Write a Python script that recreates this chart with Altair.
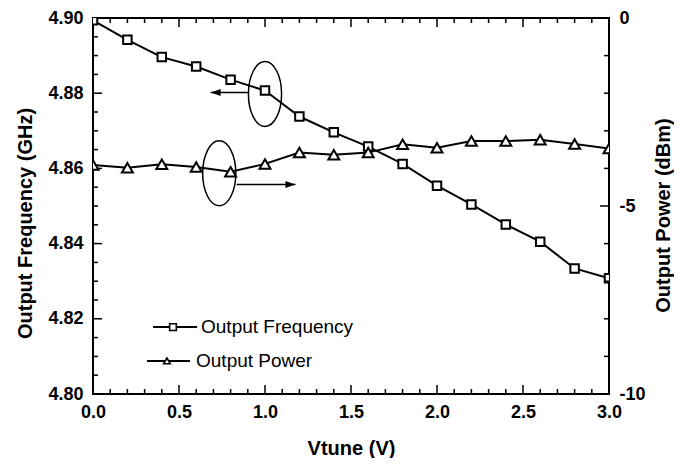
import altair as alt
import pandas as pd

# ---------------- data ----------------
vtune = [0.0, 0.2, 0.4, 0.6, 0.8, 1.0, 1.2, 1.4, 1.6, 1.8, 2.0, 2.2, 2.4, 2.6, 2.8, 3.0]
freq_ghz = [4.8994, 4.8942, 4.8896, 4.8871, 4.8836, 4.8807, 4.8738, 4.8696,
            4.8658, 4.8612, 4.8554, 4.8504, 4.8451, 4.8405, 4.8334, 4.8308]
power_dbm = [-3.91, -3.98, -3.89, -3.96, -4.09, -3.88, -3.58, -3.64,
             -3.58, -3.36, -3.45, -3.27, -3.27, -3.24, -3.35, -3.47]

x_major = [0.0, 0.5, 1.0, 1.5, 2.0, 2.5, 3.0]
x_minor = [0.1, 0.2, 0.3, 0.4, 0.6, 0.7, 0.8, 0.9, 1.1, 1.2, 1.3, 1.4,
           1.6, 1.7, 1.8, 1.9, 2.1, 2.2, 2.3, 2.4, 2.6, 2.7, 2.8, 2.9]
freq_major = [4.80, 4.82, 4.84, 4.86, 4.88, 4.90]
freq_minor = [4.805, 4.81, 4.815, 4.825, 4.83, 4.835, 4.845, 4.85, 4.855,
              4.865, 4.87, 4.875, 4.885, 4.89, 4.895]
power_major = [-10, -5, 0]
power_minor = [-9, -8, -7, -6, -4, -3, -2, -1]

legend_labels = ["Output Frequency", "Output Power"]
legend_line_x1 = [0.349, 0.314]
legend_line_x2 = [0.605, 0.564]
legend_mark_x = [0.465, 0.430]
legend_text_x = [0.628, 0.599]
legend_y = [4.8178, 4.8088]
legend_symbol = ["square", "triangle-up"]

ellipse_x = [1.0, 0.734]
ellipse_y = [4.8798, 4.8587]
arrow_tail_x = [0.904, 0.835]
arrow_tip_x = [0.684, 1.177]
arrow_y = [4.8802, 4.8557]
arrow_dir = ["left", "right"]

# ---------------- layout ----------------
W, H = 516, 376
FONT = "Liberation Sans"
ELLIPSE = "M-0.51,0A0.51,1 0 1,1 0.51,0A0.51,1 0 1,1 -0.51,0Z"
HEAD_L = "M0,0L2,-0.7L2,0.7Z"
HEAD_R = "M0,0L-2,-0.7L-2,0.7Z"

xs = alt.Scale(domain=[0, 3], nice=False, zero=False)
fs = alt.Scale(domain=[4.80, 4.90], nice=False, zero=False)
ps = alt.Scale(domain=[-10, 0], nice=False, zero=False)

x_axis = alt.Axis(title="Vtune (V)", values=x_major, format=".1f", ticks=False,
                  domain=False, grid=False, labelPadding=9, titlePadding=17,
                  labelFlush=False, labelOverlap=False)
left_axis = alt.Axis(title="Output Frequency (GHz)", values=freq_major, format=".2f",
                     ticks=False, domain=False, grid=False, labelPadding=10,
                     titlePadding=12, labelFlush=False, labelOverlap=False,
                     titleY=205)
right_axis = alt.Axis(title="Output Power (dBm)", orient="right", values=power_major,
                      labelExpr="toString(datum.value)", ticks=False, domain=False,
                      grid=False, labelPadding=10, titlePadding=8,
                      titleAngle=270, titleBaseline="top", labelFlush=False,
                      labelOverlap=False, titleY=197)


def X(f):
    return alt.X(f"{f}:Q", scale=xs, axis=x_axis)


def YF(f):
    return alt.Y(f"{f}:Q", scale=fs, axis=left_axis)


def YP(f):
    return alt.Y(f"{f}:Q", scale=ps, axis=right_axis)


main = pd.DataFrame({"x": vtune, "freq": freq_ghz, "power": power_dbm})

freq_line = alt.Chart(main).mark_line(color="black", strokeWidth=2, clip=True).encode(
    x=X("x"), y=YF("freq"))
freq_pts = alt.Chart(main).mark_point(shape="square", size=72, filled=True, fill="white",
                                      stroke="black", strokeWidth=2, opacity=1,
                                      clip=True).encode(x=X("x"), y=YF("freq"))

xmaj = pd.DataFrame({"x": x_major})
xmin = pd.DataFrame({"x": x_minor})
rule = dict(color="black", strokeWidth=1.5)
bot_major = alt.Chart(xmaj).mark_rule(**rule).encode(x=X("x"), y=alt.value(H), y2=alt.value(H - 9))
bot_minor = alt.Chart(xmin).mark_rule(**rule).encode(x=X("x"), y=alt.value(H), y2=alt.value(H - 5))
top_major = alt.Chart(xmaj).mark_rule(**rule).encode(x=X("x"), y=alt.value(0), y2=alt.value(9))
top_minor = alt.Chart(xmin).mark_rule(**rule).encode(x=X("x"), y=alt.value(0), y2=alt.value(5))
left_major = alt.Chart(pd.DataFrame({"freq": freq_major})).mark_rule(**rule).encode(
    y=YF("freq"), x=alt.value(0), x2=alt.value(9))
left_minor = alt.Chart(pd.DataFrame({"freq": freq_minor})).mark_rule(**rule).encode(
    y=YF("freq"), x=alt.value(0), x2=alt.value(5))

ell = pd.DataFrame({"x": ellipse_x, "freq": ellipse_y})
ellipses = alt.Chart(ell).mark_point(shape=ELLIPSE, size=4225, filled=False,
                                     stroke="black", strokeWidth=1.5, opacity=1).encode(
    x=X("x"), y=YF("freq"))

arr = pd.DataFrame({"x": arrow_tail_x, "x2": arrow_tip_x, "freq": arrow_y, "dir": arrow_dir})
shafts = alt.Chart(arr).mark_rule(color="black", strokeWidth=1.5).encode(
    x=X("x"), x2="x2:Q", y=YF("freq"))
heads = alt.Chart(arr).mark_point(size=100, filled=True, color="black", opacity=1).encode(
    x=X("x2"), y=YF("freq"),
    shape=alt.Shape("dir:N", scale=alt.Scale(domain=["left", "right"], range=[HEAD_L, HEAD_R]),
                    legend=None))

leg = pd.DataFrame({"label": legend_labels, "x1": legend_line_x1, "x2": legend_line_x2,
                    "xm": legend_mark_x, "xt": legend_text_x, "freq": legend_y,
                    "sym": legend_symbol})
leg_lines = alt.Chart(leg).mark_rule(color="black", strokeWidth=2).encode(
    x=X("x1"), x2="x2:Q", y=YF("freq"))
leg_marks = alt.Chart(leg).mark_point(size=45, filled=True, fill="white", stroke="black",
                                      strokeWidth=1.6, opacity=1).encode(
    x=X("xm"), y=YF("freq"), shape=alt.Shape("sym:N", scale=None, legend=None))
leg_text = alt.Chart(leg).mark_text(align="left", baseline="middle", fontSize=19,
                                    font=FONT, color="black", dx=0).encode(
    x=X("xt"), y=YF("freq"), text="label:N")

left = alt.layer(bot_major, bot_minor, top_major, top_minor, left_major, left_minor,
                 freq_line, freq_pts, ellipses, shafts, heads, leg_lines, leg_marks, leg_text)

power_line = alt.Chart(main).mark_line(color="black", strokeWidth=2, clip=True).encode(
    x=X("x"), y=YP("power"))
power_pts = alt.Chart(main).mark_point(shape="triangle-up", size=120, filled=True,
                                       fill="white", stroke="black", strokeWidth=2,
                                       opacity=1, clip=True).encode(x=X("x"), y=YP("power"))
right_major = alt.Chart(pd.DataFrame({"power": power_major})).mark_rule(**rule).encode(
    y=YP("power"), x=alt.value(W), x2=alt.value(W - 9))
right_minor = alt.Chart(pd.DataFrame({"power": power_minor})).mark_rule(**rule).encode(
    y=YP("power"), x=alt.value(W), x2=alt.value(W - 5))

right = alt.layer(right_major, right_minor, power_line, power_pts)

chart = alt.layer(left, right).resolve_scale(y="independent").properties(
    width=W, height=H,
    background="white",
    autosize=alt.AutoSizeParams(type="none"),
    padding={"left": 85, "top": 10, "right": 65, "bottom": 64},
).configure_view(stroke="black", strokeWidth=2).configure_axis(
    labelFont=FONT, labelFontSize=18, labelFontWeight="bold", labelColor="black",
    titleFont=FONT, titleFontSize=20, titleFontWeight="bold", titleColor="black",
)

chart.save("out.html", embed_options={"renderer": "svg", "actions": False})
